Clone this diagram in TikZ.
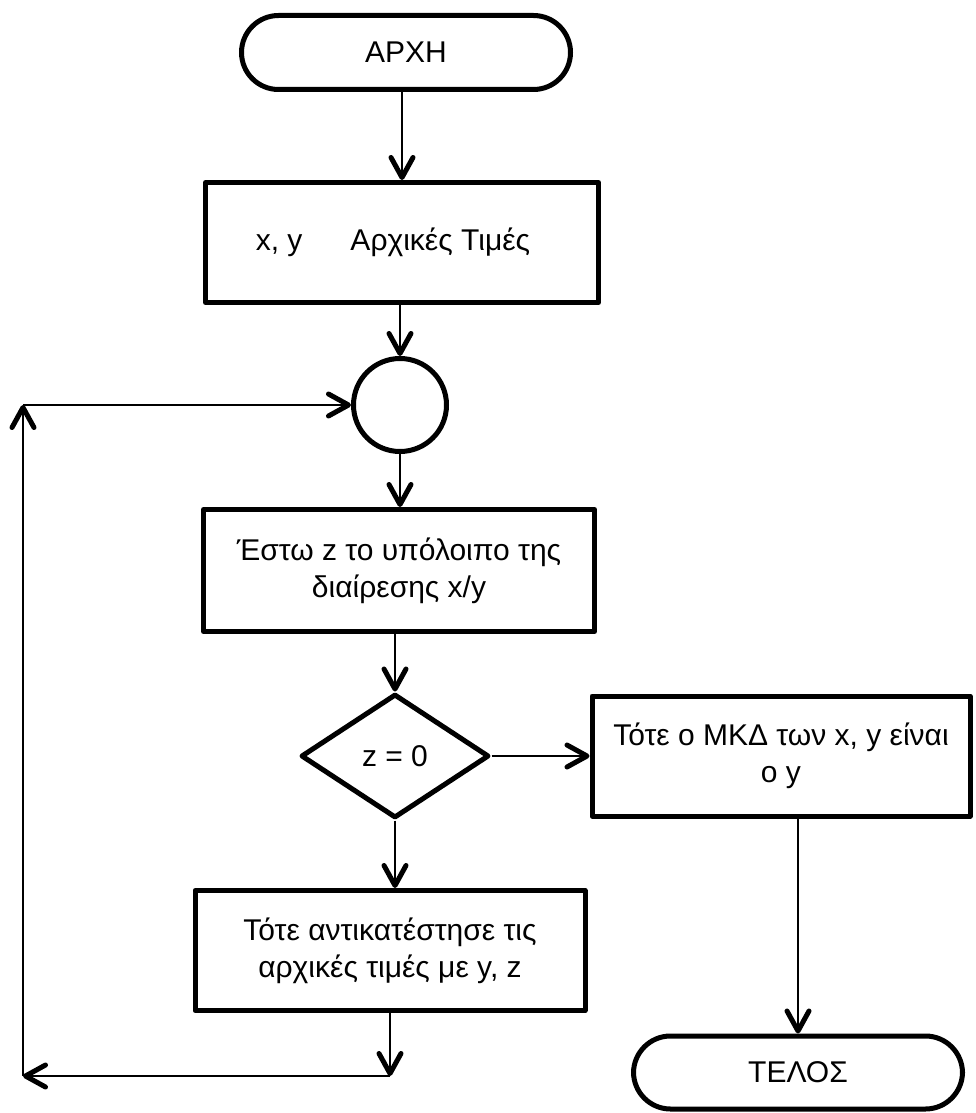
\documentclass[tikz,border=0pt]{standalone}
\usepackage{fontspec}
\setmainfont{Liberation Sans}
\usetikzlibrary{arrows.meta,shapes.geometric}
\begin{document}
\begin{tikzpicture}[x=1pt,y=-1pt,
  every node/.style={font=\fontsize{30}{37}\selectfont, inner sep=0pt, align=center},
  shp/.style={draw, line width=5pt, line join=round},
  proc/.style={shp, rectangle},
  term/.style={shp, rectangle, rounded corners=37pt, minimum width=329pt, minimum height=74pt},
  dec/.style={shp, diamond},
  junc/.style={shp, circle},
  arr/.style={line width=2pt, -{Straight Barb[length=20pt,width=22pt,line width=5pt,round]}}]
\useasboundingbox (0,0) rectangle (976,1113);
\node[term] (start) at (406,52.5) {ΑΡΧΗ};
\node[proc, minimum width=393pt, minimum height=120pt] (b1) at (402,242.5) {x, y\hspace{1.6em}Αρχικές Τιμές\hspace*{18pt}};
\node[junc, minimum size=93pt] (circ) at (400,405) {};
\node[proc, minimum width=391pt, minimum height=122pt] (b2) at (399,570.5) {Έστω z το υπόλοιπο της\\διαίρεσης x/y};
\node[dec, minimum width=188pt, minimum height=124pt] (d) at (395,756) {z = 0};
\node[proc, minimum width=378pt, minimum height=120pt] (r) at (781,756) {Τότε ο ΜΚΔ των x, y είναι\\ο y};
\node[proc, minimum width=390pt, minimum height=120pt] (b4) at (390,950.5) {Τότε αντικατέστησε τις\\αρχικές τιμές με y, z};
\node[term, minimum height=73pt] (tel) at (798,1072.5) {ΤΕΛΟΣ};
\coordinate (c2) at (23,1076);
\coordinate (c3) at (23,405);
\draw[arr] (b1.north |- start.south) -- (b1.north);
\draw[arr] (circ.north |- b1.south) -- (circ.north);
\draw[arr] (circ.south) -- (circ.south |- b2.north);
\draw[arr] (d.north |- b2.south) -- (d.north);
\draw[arr] (d.east) -- (r.west);
\draw[arr] (d.south) -- (d.south |- b4.north);
\draw[arr] (tel.north |- r.south) -- (tel.north);
\draw[arr] (b4.south) -- (b4.south |- c2) coordinate (c1);
\draw[arr] (c1) -- (c2);
\draw[arr] (c2) -- (c3);
\draw[arr] (c3) -- (circ.west);
\end{tikzpicture}
\end{document}
